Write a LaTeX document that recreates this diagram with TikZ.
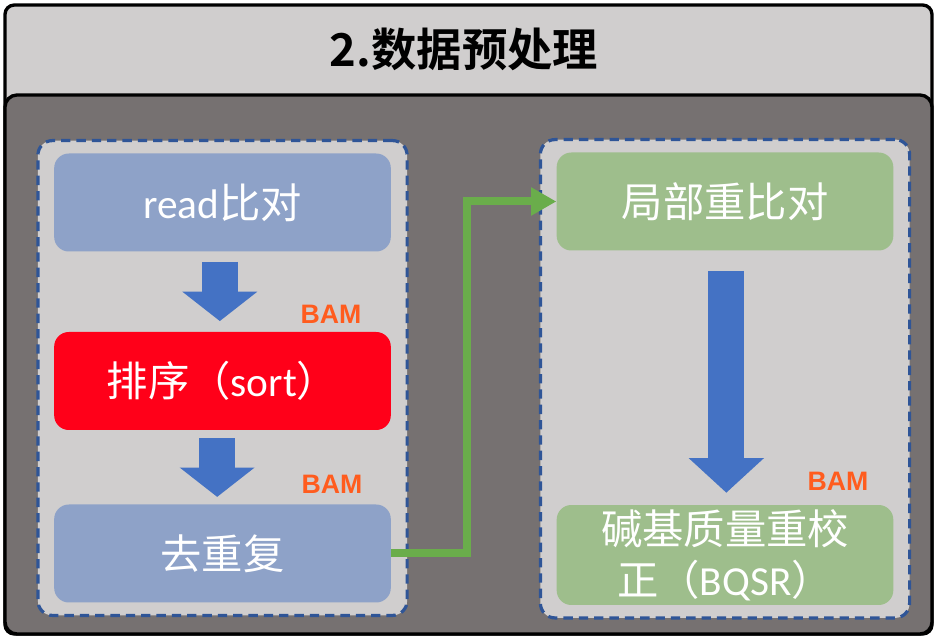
\documentclass[tikz,border=0pt]{standalone}
\usepackage{fontspec}
\setmainfont{Carlito}
\newfontfamily\cjk{Noto Sans CJK SC}[BoldFont={* Bold}]
\newfontfamily\bamfont{Liberation Sans}
\usepackage{tikz}
\usetikzlibrary{arrows.meta,fit,backgrounds}
\definecolor{panelgray}{HTML}{D0CECE}
\definecolor{darkpanel}{HTML}{767171}
\definecolor{frameblue}{HTML}{2F5597}
\definecolor{stepblue}{HTML}{8EA2C8}
\definecolor{stepred}{HTML}{FF0019}
\definecolor{stepgreen}{HTML}{9EBE8C}
\definecolor{arrowblue}{HTML}{4472C4}
\definecolor{linkgreen}{HTML}{6AAD4B}
\definecolor{bamorange}{HTML}{FF5C1E}
\newcommand{\latin}[1]{{\rmfamily #1}}

\begin{document}
\begin{tikzpicture}[
  x=0.75pt, y=-0.75pt,
  stepbox/.style={rounded corners=11pt,minimum width=252.5pt,minimum height=73.5pt,align=center,text=white,font=\cjk\fontsize{31}{38}\selectfont},
  alignbox/.style={stepbox,fill=stepblue},
  sortbox/.style={stepbox,fill=stepred},
  greenbox/.style={stepbox,fill=stepgreen},
  group/.style={draw=frameblue,line width=2.4pt,dash pattern=on 7pt off 4.5pt,fill=panelgray,rounded corners=11pt,inner xsep=12pt,inner ysep=9.5pt},
  bam/.style={text=bamorange,font=\bamfont\bfseries\fontsize{20}{20}\selectfont},
  down/.style={arrowblue,line width=27pt,-{Triangle[length=22pt,width=55pt]}},
  link/.style={linkgreen,line width=6pt,-{Triangle[length=19pt,width=20pt]}},
]
  \useasboundingbox (0,0) rectangle (940,641);

  % frame and title band
  \begin{scope}[on background layer]
    \draw[line width=2.5pt,fill=panelgray,rounded corners=7pt] (5,5) rectangle (932,634);
    \draw[line width=2.5pt,fill=darkpanel,rounded corners=9pt] (5,95) rectangle (932,634);
  \end{scope}
  \node[font=\cjk\bfseries\fontsize{34}{40}\selectfont] (title) at (464,49) {2.数据预处理};

  % left column
  \node[alignbox] (read)  at (222.5,202.5) {\latin{read}比对};
  \node[sortbox]  (sort)  at (222.5,381)   {排序（\latin{sort}）};
  \node[alignbox] (dedup) at (222.5,553.5) {去重复};

  % right column
  \node[greenbox] (realign) at (725,201.5) {局部重比对};
  \node[greenbox] (bqsr)    at (725,555)   {碱基质量重校\\正（\latin{BQSR}）};

  \begin{scope}[on background layer]
    \node[group,fit=(read)(dedup)] (leftgroup) {};
    \node[group,fit=(realign)(bqsr)] (rightgroup) {};
  \end{scope}

  \node[bam] (bam1) at (331,314) {BAM};
  \node[bam] (bam2) at (332,484) {BAM};
  \node[bam] (bam3) at (838,481) {BAM};

  \draw[down] ([xshift=-2pt,yshift=-7.5pt]read.south) -- ([xshift=-2pt,yshift=8pt]sort.north);
  \draw[down] ([xshift=-4pt,yshift=-6pt]sort.south) -- ([xshift=-4pt,yshift=5.5pt]dedup.north);
  \draw[down,-{Triangle[length=26pt,width=55pt]}] ([xshift=1pt,yshift=-15pt]realign.south) -- ([xshift=1pt,yshift=9pt]bqsr.north);
  \draw[link] (dedup.east) -- ++(76,0) |- (realign.west);
\end{tikzpicture}
\end{document}
